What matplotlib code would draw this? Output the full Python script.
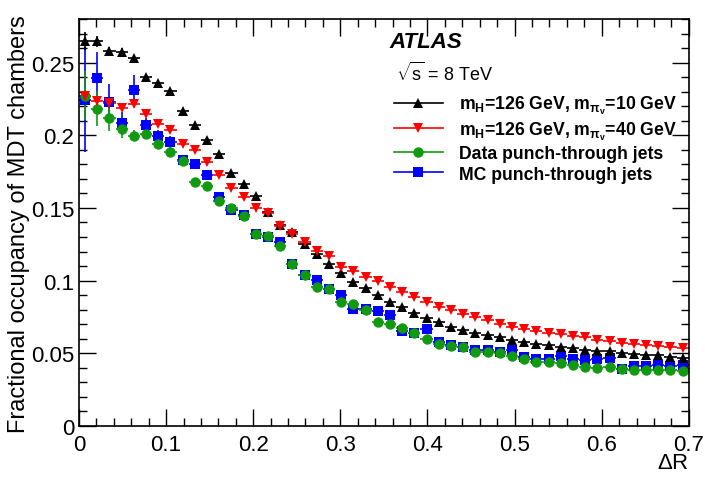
import matplotlib
matplotlib.use("Agg")
import matplotlib.pyplot as plt
import numpy as np
from matplotlib.lines import Line2D
from matplotlib.ticker import MultipleLocator

plt.rcParams['font.family'] = ['Liberation Sans', 'DejaVu Sans']
plt.rcParams['mathtext.fontset'] = 'custom'
plt.rcParams['mathtext.rm'] = 'Liberation Sans'
plt.rcParams['mathtext.it'] = 'Liberation Sans:italic'
plt.rcParams['mathtext.bf'] = 'Liberation Sans:bold'

# 50 bins of width 0.014 in Delta R, from 0 to 0.7
bin_width = 0.014
dr = np.arange(50) * bin_width + bin_width / 2

occ_m10 = [0.265, 0.2646, 0.2577, 0.257, 0.253, 0.2398, 0.2359, 0.2306, 0.2168, 0.2071,
           0.1968, 0.1869, 0.1738, 0.1662, 0.1584, 0.1474, 0.1381, 0.1336, 0.1255, 0.1186,
           0.1112, 0.1055, 0.0993, 0.0948, 0.0901, 0.0855, 0.0818, 0.0779, 0.074, 0.0715,
           0.0684, 0.066, 0.0643, 0.0625, 0.0612, 0.0595, 0.0577, 0.0566, 0.0554, 0.0543,
           0.0536, 0.0526, 0.0519, 0.0513, 0.0503, 0.0497, 0.049, 0.0485, 0.0474, 0.0467]
occ_m40 = [0.2267, 0.2237, 0.2221, 0.2191, 0.2214, 0.2145, 0.2076, 0.2037, 0.1938, 0.1899,
           0.1816, 0.1726, 0.1634, 0.1577, 0.1497, 0.1462, 0.1377, 0.1324, 0.1267, 0.1202,
           0.1168, 0.1094, 0.1063, 0.1025, 0.0995, 0.0957, 0.0925, 0.0888, 0.0855, 0.0821,
           0.0795, 0.0769, 0.075, 0.0726, 0.0703, 0.0684, 0.0667, 0.0654, 0.064, 0.0631,
           0.0618, 0.0609, 0.0594, 0.0585, 0.0574, 0.0566, 0.056, 0.0551, 0.0543, 0.0537]
occ_data = [0.2273, 0.2182, 0.2122, 0.2044, 0.1998, 0.2007, 0.1938, 0.1888, 0.1823, 0.168,
            0.1652, 0.1547, 0.1501, 0.1446, 0.1324, 0.1308, 0.1239, 0.1117, 0.1037, 0.0956,
            0.094, 0.0853, 0.0838, 0.0795, 0.0717, 0.07, 0.0671, 0.064, 0.06, 0.0566,
            0.0552, 0.054, 0.0508, 0.0508, 0.0503, 0.048, 0.0462, 0.0443, 0.0439, 0.0432,
            0.0421, 0.0405, 0.04, 0.0409, 0.0393, 0.0382, 0.0382, 0.0382, 0.0382, 0.0375]
occ_mc = [0.2244, 0.2393, 0.2232, 0.2083, 0.2313, 0.2071, 0.1998, 0.1952, 0.183, 0.1805,
          0.1726, 0.1577, 0.1485, 0.145, 0.1324, 0.1301, 0.1267, 0.1117, 0.1037, 0.1002,
          0.094, 0.0901, 0.0807, 0.0807, 0.079, 0.0761, 0.0654, 0.064, 0.0669, 0.0575,
          0.056, 0.0545, 0.0525, 0.052, 0.0508, 0.052, 0.0474, 0.046, 0.046, 0.048,
          0.046, 0.0455, 0.046, 0.0467, 0.0393, 0.041, 0.0415, 0.042, 0.0415, 0.042]

# stat. errors of the first bins (later ones are smaller than the markers)
err_m10 = [0.006, 0.004, 0.003, 0.003, 0.002, 0.002]
err_m40 = [0.004, 0.003, 0.003, 0.002, 0.002, 0.002]
err_data = [0.017, 0.012, 0.009, 0.006, 0.004, 0.003, 0.003, 0.002]
err_mc = [0.036, 0.018, 0.012, 0.008, 0.010, 0.005, 0.004, 0.004, 0.003]


def full_err(err):
    return np.r_[err, np.zeros(len(dr) - len(err))]


series = [
    (occ_mc, err_mc, '#0000ff', 's', 'MC punch-through jets'),
    (occ_data, err_data, '#119911', 'o', 'Data punch-through jets'),
    (occ_m10, err_m10, 'black', '^', r'$\mathbf{m_{H}}$=126 GeV, $\mathbf{m_{\pi_{v}}}$=10 GeV'),
    (occ_m40, err_m40, '#ff0000', 'v', r'$\mathbf{m_{H}}$=126 GeV, $\mathbf{m_{\pi_{v}}}$=40 GeV'),
]

fig = plt.figure(figsize=(7.05, 4.85), dpi=100)
ax = fig.add_axes([0.112, 0.1196, 0.865, 0.8392])

handles = {}
for vals, err, color, marker, label in series:
    ax.errorbar(dr, vals, xerr=bin_width / 2, yerr=full_err(err), fmt=marker,
                color=color, ecolor=color, markersize=7.5, elinewidth=1.2,
                capsize=0, markeredgewidth=0)
    handles[label] = Line2D([], [], color=color, marker=marker, markersize=7.5,
                            linewidth=1.2, markeredgewidth=0)

order = [s[4] for s in (series[2], series[3], series[1], series[0])]
leg = ax.legend([handles[k] for k in order], order, loc='upper left',
                bbox_to_anchor=(0.49, 0.855), frameon=False, handlelength=2.8,
                handletextpad=0.9, labelspacing=0.2,
                prop={'size': 12.7, 'weight': 'bold'})

ax.text(0.509, 0.945, 'ATLAS', transform=ax.transAxes, fontsize=16,
        fontweight='bold', fontstyle='italic', va='center')
ax.text(0.52, 0.87, r'$\sqrt{\mathrm{s}}$ = 8 TeV', transform=ax.transAxes,
        fontsize=13, va='center')

ax.set_xlim(0, 0.7)
ax.set_ylim(0, 0.28)
ax.xaxis.set_major_locator(MultipleLocator(0.1))
ax.xaxis.set_minor_locator(MultipleLocator(0.02))
ax.yaxis.set_major_locator(MultipleLocator(0.05))
ax.yaxis.set_minor_locator(MultipleLocator(0.01))
ax.set_xticklabels([f'{t:g}' for t in ax.get_xticks()])
ax.set_yticklabels([f'{t:g}' for t in ax.get_yticks()])
ax.tick_params(which='both', direction='in', top=True, right=True, labelsize=16,
               width=1)
ax.tick_params(which='major', length=12)
ax.tick_params(which='minor', length=6)
ax.tick_params(axis='x', pad=6)
for sp in ax.spines.values():
    sp.set_linewidth(1.2)

ax.set_xlabel(r'$\Delta$R', fontsize=16, loc='right')
ax.xaxis.set_label_coords(1.0, -0.065)
ax.set_ylabel('Fractional occupancy of MDT chambers', fontsize=17, loc='top')
ax.yaxis.set_label_coords(-0.08, 1.012)

fig.savefig('out.png', dpi=100)
